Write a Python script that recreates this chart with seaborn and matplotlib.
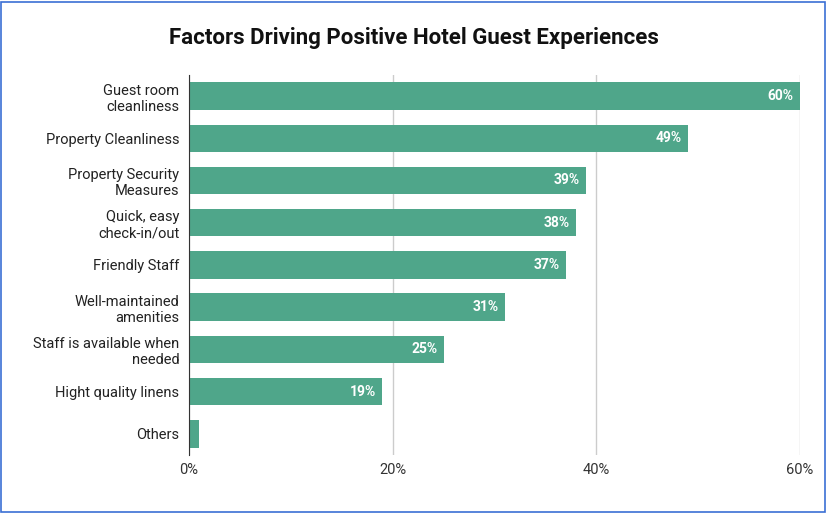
import matplotlib
matplotlib.use("Agg")
import matplotlib.pyplot as plt
import seaborn as sns
import pandas as pd
from matplotlib.patches import Rectangle

categories = ["Guest room\ncleanliness", "Property Cleanliness", "Property Security\nMeasures",
              "Quick, easy\ncheck-in/out", "Friendly Staff", "Well-maintained\namenities",
              "Staff is available when\nneeded", "Hight quality linens", "Others"]
values = [60, 49, 39, 38, 37, 31, 25, 19, 1]
labels = ["60%", "49%", "39%", "38%", "37%", "31%", "25%", "19%", ""]
xticks = [0, 20, 40, 60]

df = pd.DataFrame({"cat": categories, "val": values})
plt.rcParams["font.family"] = "Roboto"
fig = plt.figure(figsize=(8.27, 5.13), dpi=100)
ax = fig.add_axes([0.2285, 0.113, 0.7388, 0.741])
sns.barplot(data=df, x="val", y="cat", color="#4fa68a", saturation=1, width=0.65, ax=ax)
ax.set_xlim(0, 60)
ax.set_ylim(8.5, -0.5)
ax.set_xticks(xticks)
ax.set_xticklabels([f"{t}%" for t in xticks], fontsize=10.5, color="#333333")
ax.tick_params(axis="y", labelsize=10.5, colors="#222222", length=0, pad=7)
ax.tick_params(axis="x", length=0, pad=6)
ax.set_xlabel(""); ax.set_ylabel("")
ax.grid(axis="x", color="#cccccc", lw=1)
ax.set_axisbelow(True)
for s in ["top", "right", "bottom"]:
    ax.spines[s].set_visible(False)
ax.spines["left"].set_color("#333333")
for i, (v, l) in enumerate(zip(values, labels)):
    if l:
        ax.text(v - 0.6, i, l, ha="right", va="center", color="white", fontsize=10, fontweight="bold")
fig.text(0.5, 0.925, "Factors Driving Positive Hotel Guest Experiences", ha="center", va="center",
         fontsize=16, fontweight="bold", color="#111111")
fig.patches.append(Rectangle((0.001, 0.002), 0.997, 0.995, transform=fig.transFigure,
                             fill=False, edgecolor="#3b6fd4", lw=1.2))
fig.savefig("out.png", dpi=100)
